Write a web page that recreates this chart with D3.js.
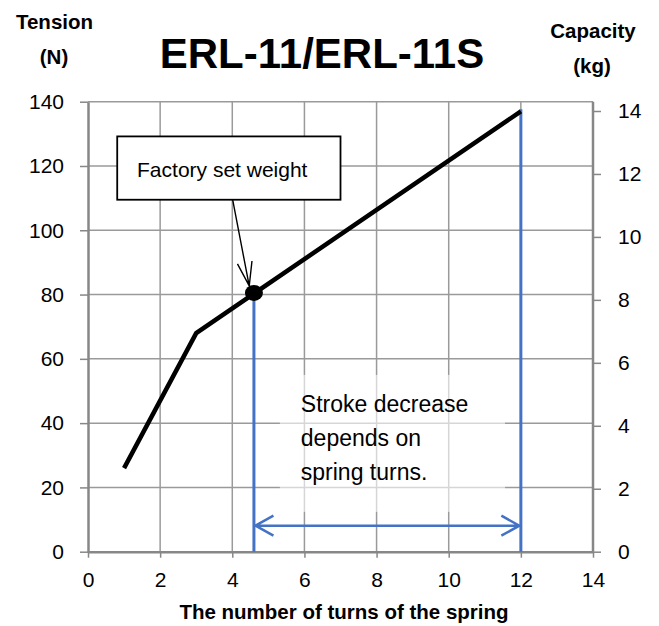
<!DOCTYPE html>
<html>
<head>
<meta charset="utf-8">
<script src="https://cdn.jsdelivr.net/npm/d3@7"></script>
<style>
  body { margin: 0; background: #fff; }
  svg { display: block; font-family: "Liberation Sans", Arial, sans-serif; }
</style>
</head>
<body>
<svg id="chart" width="659" height="626"></svg>
<script>
// data
const turns = [1, 3, 4.6, 12];
const tension = [26, 68, 80.3, 137];
const setPoint = [4.6, 80.5];          // factory set weight (turns, N)
const strokeRange = [4.6, 12];         // turns covered by the stroke arrow
const xTicks = [0, 2, 4, 6, 8, 10, 12, 14];
const tensionTicks = [0, 20, 40, 60, 80, 100, 120, 140];
const capacityTicks = [0, 2, 4, 6, 8, 10, 12, 14];
const strokeLines = ["Stroke decrease", "depends on", "spring turns."];

const svg = d3.select("#chart");
const x = d3.scaleLinear().domain([0, 14]).range([88, 593]);
const y = d3.scaleLinear().domain([0, 140]).range([551.7, 101.7]);
const yKg = d3.scaleLinear().domain([0, 14]).range([551.7, 111]);

const gridColor = "#9a9a9a", axisColor = "#878787", blue = "#4472c4";

// grid
svg.append("g").selectAll("line")
  .data(tensionTicks.slice(1))
  .join("line")
  .attr("x1", x(0)).attr("x2", x(14))
  .attr("y1", d => y(d)).attr("y2", d => y(d))
  .attr("stroke", gridColor).attr("stroke-width", 1.5);
svg.append("g").selectAll("line")
  .data(xTicks.slice(1, -1))
  .join("line")
  .attr("x1", d => x(d)).attr("x2", d => x(d))
  .attr("y1", y(0)).attr("y2", y(140))
  .attr("stroke", gridColor).attr("stroke-width", 1.5);

// axes
function styleAxis(g) {
  g.select(".domain").attr("stroke", axisColor).attr("stroke-width", 2.5);
  g.selectAll(".tick line").attr("stroke", axisColor).attr("stroke-width", 1.5);
  g.selectAll("text").attr("fill", "#000").style("font-family", "'Liberation Sans', Arial, sans-serif");
}
svg.append("g")
  .attr("transform", `translate(${x(0)},0)`)
  .call(d3.axisLeft(y).tickValues(tensionTicks).tickSize(8).tickSizeOuter(0).tickPadding(16))
  .call(styleAxis)
  .selectAll("text").attr("font-size", 21);
svg.append("g")
  .attr("transform", `translate(${x(14)},0)`)
  .call(d3.axisRight(yKg).tickValues(capacityTicks).tickSize(8).tickSizeOuter(0).tickPadding(17))
  .call(g => g.select(".domain").attr("d", `M0,${y(140)}V${y(0)}`))
  .call(styleAxis)
  .selectAll("text").attr("font-size", 21);
svg.append("g")
  .attr("transform", `translate(0,${y(0)})`)
  .call(d3.axisBottom(x).tickValues(xTicks).tickSize(6).tickSizeOuter(0).tickPadding(14))
  .call(styleAxis)
  .selectAll("text").attr("font-size", 21);

// translucent box behind the stroke note
svg.append("rect")
  .attr("x", x(5.32)).attr("y", y(55))
  .attr("width", x(11.56) - x(5.32)).attr("height", y(12.4) - y(55))
  .attr("fill", "#fff").attr("opacity", 0.6);

// blue stroke markers
svg.append("line")
  .attr("x1", x(strokeRange[0])).attr("x2", x(strokeRange[0]))
  .attr("y1", y(setPoint[1])).attr("y2", y(0))
  .attr("stroke", blue).attr("stroke-width", 3);
svg.append("line")
  .attr("x1", x(strokeRange[1])).attr("x2", x(strokeRange[1]))
  .attr("y1", y(tension[tension.length - 1]) - 2).attr("y2", y(0))
  .attr("stroke", blue).attr("stroke-width", 3);

const arrowY = y(8.1);
const ax0 = x(strokeRange[0]) + 1.5, ax1 = x(strokeRange[1]) - 1.5;
svg.append("path")
  .attr("d", `M${ax0},${arrowY}H${ax1}` +
    `M${ax0 + 18},${arrowY - 10}L${ax0},${arrowY}L${ax0 + 18},${arrowY + 10}` +
    `M${ax1 - 18},${arrowY - 10}L${ax1},${arrowY}L${ax1 - 18},${arrowY + 10}`)
  .attr("fill", "none").attr("stroke", blue).attr("stroke-width", 2.5);

// tension curve
const line = d3.line().x(d => x(d[0])).y(d => y(d[1]));
svg.append("path")
  .datum(d3.zip(turns, tension))
  .attr("d", line)
  .attr("fill", "none").attr("stroke", "#000").attr("stroke-width", 4.5)
  .attr("stroke-linejoin", "miter");
svg.append("ellipse")
  .attr("cx", x(setPoint[0])).attr("cy", y(setPoint[1]))
  .attr("rx", 9).attr("ry", 8).attr("fill", "#000");

// factory set weight callout
svg.append("rect")
  .attr("x", x(0.81)).attr("y", y(129.2))
  .attr("width", x(7.0) - x(0.81)).attr("height", y(109.5) - y(129.2))
  .attr("fill", "#fff").attr("stroke", "#000").attr("stroke-width", 1.8);
svg.append("text")
  .attr("x", x(1.36)).attr("y", y(116.7))
  .attr("font-size", 21).text("Factory set weight");

const s = [x(4.01), y(109.5)], t = [x(4.47), y(82.7)];
const ang = Math.atan2(s[1] - t[1], s[0] - t[0]);
const arm = a => [t[0] + 25 * Math.cos(ang + a), t[1] + 25 * Math.sin(ang + a)];
const a1 = arm(0.3), a2 = arm(-0.3);
svg.append("path")
  .attr("d", `M${s[0]},${s[1]}L${t[0]},${t[1]}M${a1[0]},${a1[1]}L${t[0]},${t[1]}L${a2[0]},${a2[1]}`)
  .attr("fill", "none").attr("stroke", "#000").attr("stroke-width", 1.4);

// stroke note
svg.append("text")
  .attr("x", x(5.9)).attr("y", y(43.6))
  .attr("font-size", 23)
  .selectAll("tspan")
  .data(strokeLines)
  .join("tspan")
  .attr("x", x(5.9))
  .attr("dy", (d, i) => i === 0 ? 0 : 34.2)
  .text(d => d);

// titles
const bold = (tx, ty, size, str) => svg.append("text")
  .attr("x", tx).attr("y", ty).attr("text-anchor", "middle")
  .attr("font-size", size).attr("font-weight", "bold").text(str);
bold(322, 68, 42, "ERL-11/ERL-11S");
bold(54.5, 29, 20.5, "Tension");
bold(54, 64, 20.5, "(N)");
bold(593, 38, 20.5, "Capacity");
bold(592, 73, 20.5, "(kg)");
bold(344, 619, 20.5, "The number of turns of the spring");
</script>
</body>
</html>
